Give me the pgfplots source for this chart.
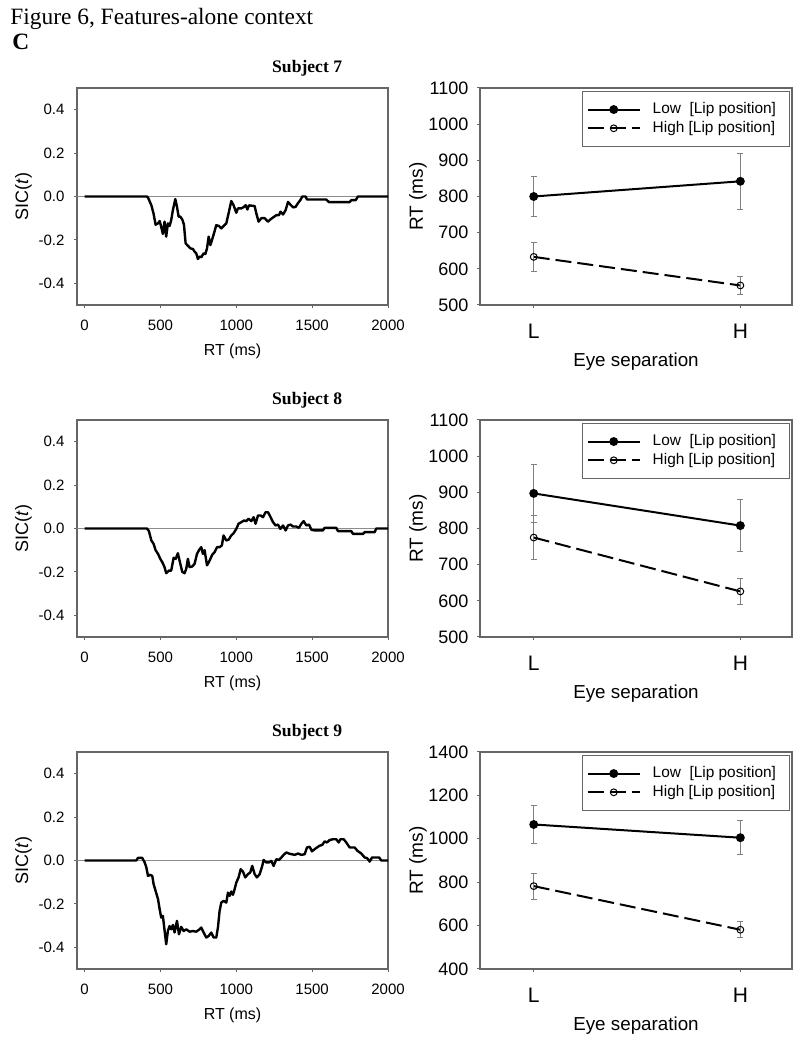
\documentclass[border=0pt]{standalone}
\usepackage{fontspec}
\setmainfont{Liberation Sans}
\newfontfamily\tnr{Liberation Serif}
\usepackage{pgfplots}
\pgfplotsset{compat=1.18}

% 1 px of the reference = 0.5pt
\pgfplotsset{
  every axis title shift=0pt,
  panel/.style={
    scale only axis, height=108.5pt, anchor=south west,
    axis line style={black!60, line width=0.6pt},
    tick style={black!60, line width=0.5pt},
    tick align=outside, major tick length=1.6pt,
    xtick pos=bottom, ytick pos=left,
    clip=false,
  },
  subj/.style={title={#1},
    title style={font=\tnr\bfseries\fontsize{8.8}{10}\selectfont,
      at={(axis description cs:0.74,1)}, anchor=base, yshift=7.5pt}},
  sic/.style={panel, width=155.5pt,
    xmin=-50, xmax=2000, ymin=-0.5, ymax=0.5,
    tick label style={font=\fontsize{7.5}{8}\selectfont},
    xtick={0,500,1000,1500,2000}, xticklabels={0,500,1000,1500,2000},
    ytick={-0.4,-0.2,0,0.2,0.4}, yticklabels={-0.4,-0.2,0.0,0.2,0.4},
    xticklabel style={anchor=center, yshift=-8.5pt},
    yticklabel style={anchor=east, inner sep=0pt, xshift=-4.5pt},
    xlabel={RT (ms)}, ylabel={SIC(\textit{t})},
    xlabel style={font=\fontsize{8}{9}\selectfont, at={(axis description cs:0.5,-0.214)}, anchor=center},
    ylabel style={font=\fontsize{9}{10}\selectfont, at={(axis description cs:-0.172,0.5)}, anchor=center},
  },
  rt/.style={panel, width=156pt,
    xmin=0.74, xmax=2.25, xtick={1,2}, xticklabels={L,H},
    tick label style={font=\fontsize{9}{10}\selectfont},
    xticklabel style={font=\fontsize{10.5}{12}\selectfont, anchor=center, yshift=-11.5pt},
    yticklabel style={anchor=east, inner sep=0pt, xshift=-4pt,
      /pgf/number format/assume math mode=true, /pgf/number format/1000 sep={}},
    xlabel={Eye separation}, ylabel={RT (ms)},
    xlabel style={font=\fontsize{9.4}{11}\selectfont, at={(axis description cs:0.5,-0.263)}, anchor=center},
    ylabel style={font=\fontsize{9.5}{11}\selectfont, at={(axis description cs:-0.199,0.5)}, anchor=center},
    legend style={at={(axis description cs:0.993,0.985)}, anchor=north east,
      draw=black!60, line width=0.5pt, font=\fontsize{7.7}{9}\selectfont,
      outer sep=0pt, nodes={inner sep=0.5pt}, row sep=1.3pt,
      inner xsep=1.9pt, inner ysep=5.1pt,
      /tikz/every odd column/.append style={column sep=5.5pt}},
    legend cell align=left,
    legend image code/.code={\draw[mark repeat=2, mark phase=2, ##1]
      plot coordinates {(0pt,0pt) (13pt,0pt) (26pt,0pt)};},
  },
  sicline/.style={black, line width=1.2pt, line join=round},
  zeroline/.style={black!45, line width=0.4pt, forget plot},
  lowrt/.style={black, line width=1pt, mark=*, mark size=1.7pt,
    mark options={solid, fill=black},
    error bars/.cd, y dir=both, y explicit,
    error bar style={black!50, line width=0.5pt, solid},
    error mark options={black!50, line width=0.5pt, mark size=1.5pt, rotate=90}},
  highrt/.style={black, line width=1pt, dash pattern=on 8pt off 3pt,
    mark=o, mark size=1.7pt, mark options={solid, fill=white, line width=0.5pt},
    error bars/.cd, y dir=both, y explicit,
    error bar style={black!50, line width=0.5pt, solid},
    error mark options={black!50, line width=0.5pt, mark size=1.5pt, rotate=90}},
}
\newcommand{\lowentry}{Low\ \ [Lip position]\rule{4.5pt}{0pt}}
\newcommand{\highentry}{High [Lip position]\rule{4.5pt}{0pt}}

\begin{document}
\begin{tikzpicture}
\useasboundingbox (0,0) rectangle (400pt,522pt);

\node[anchor=base west, inner sep=0pt, font=\tnr\fontsize{11.7}{14}\selectfont]
  at (5pt,509.5pt) {Figure 6, Features-alone context};
\node[anchor=base west, inner sep=0pt, font=\tnr\bfseries\fontsize{11.7}{14}\selectfont]
  at (6pt,497pt) {C};

% ---------------- Subject 7 ----------------
\begin{axis}[sic, subj={Subject 7}, at={(38.5pt,369.5pt)}]
\addplot[zeroline] coordinates {(-50,0) (2000,0)};
\addplot[sicline] coordinates {
(0,0) (411,0) (418,-0.005) (440,-0.04) (455,-0.08) (468,-0.13) (484,-0.124)
(495,-0.113) (505,-0.14) (516,-0.173) (527,-0.116) (538,-0.185) (549,-0.124)
(560,-0.136) (571,-0.109) (582,-0.063) (598,-0.012) (609,-0.047) (620,-0.093)
(631,-0.093) (644,-0.106) (655,-0.13) (666,-0.216) (681,-0.227) (697,-0.239)
(714,-0.242) (725,-0.254) (736,-0.262) (747,-0.288) (758,-0.277) (769,-0.28)
(785,-0.262) (796,-0.265) (807,-0.239) (818,-0.185) (829,-0.224) (840,-0.2)
(853,-0.17) (868,-0.132) (886,-0.136) (901,-0.147) (916,-0.136) (934,-0.124)
(949,-0.078) (967,-0.021) (982,-0.04) (1000,-0.075) (1011,-0.055) (1033,-0.055)
(1051,-0.048) (1062,-0.04) (1073,-0.06) (1084,-0.041) (1121,-0.044) (1132,-0.078)
(1147,-0.116) (1165,-0.1) (1187,-0.1) (1209,-0.116) (1224,-0.106) (1242,-0.097)
(1264,-0.086) (1281,-0.086) (1292,-0.07) (1308,-0.083) (1325,-0.063) (1341,-0.025)
(1356,-0.037) (1374,-0.05) (1391,-0.048) (1407,-0.03) (1422,-0.017) (1435,0)
(1457,0) (1466,-0.014) (1593,-0.014) (1611,-0.026) (1747,-0.026) (1758,-0.017)
(1787,-0.017) (1802,0) (2000,0)};
\end{axis}

\begin{axis}[rt, at={(240pt,369.5pt)}, ymin=500, ymax=1100,
  ytick={500,600,700,800,900,1000,1100}]
\addplot[lowrt] coordinates {(1,800) +- (0,56) (2,842) +- (0,77)};
\addlegendentry{\lowentry}
\addplot[highrt] coordinates {(1,633) +- (0,41) (2,554) +- (0,24)};
\addlegendentry{\highentry}
\end{axis}

% ---------------- Subject 8 ----------------
\begin{axis}[sic, subj={Subject 8}, at={(38.5pt,203.5pt)}]
\addplot[zeroline] coordinates {(-50,0) (2000,0)};
\addplot[sicline] coordinates {
(0,0) (411,0) (424,-0.012) (440,-0.055) (455,-0.071) (468,-0.1) (484,-0.117)
(499,-0.14) (512,-0.155) (527,-0.178) (538,-0.206) (556,-0.194) (571,-0.194)
(587,-0.135) (600,-0.14) (615,-0.114) (626,-0.148) (644,-0.2) (659,-0.206)
(670,-0.186) (681,-0.14) (692,-0.178) (710,-0.175) (725,-0.163) (741,-0.117)
(754,-0.1) (769,-0.086) (780,-0.117) (791,-0.1) (807,-0.17) (824,-0.148)
(842,-0.12) (857,-0.109) (873,-0.086) (890,-0.086) (905,-0.078) (916,-0.032)
(934,-0.055) (949,-0.052) (967,-0.032) (982,-0.022) (1000,-0.002) (1015,0.022)
(1033,0.029) (1051,0.037) (1066,0.034) (1081,0.045) (1099,0.034) (1114,0.052)
(1127,0.022) (1143,0.06) (1160,0.06) (1176,0.052) (1193,0.075) (1209,0.075)
(1224,0.055) (1242,0.029) (1259,0.014) (1275,0.018) (1290,-0.002) (1308,0.014)
(1325,-0.009) (1341,0.014) (1358,0.018) (1374,0.009) (1396,0.009) (1413,0.003)
(1429,0.022) (1444,0.034) (1462,0.014) (1479,0.018) (1495,-0.006) (1516,-0.009)
(1571,-0.009) (1582,0.003) (1659,0.003) (1670,-0.012) (1758,-0.012) (1769,-0.025)
(1835,-0.025) (1846,-0.017) (1912,-0.017) (1923,0) (2000,0)};
\end{axis}

\begin{axis}[rt, at={(240pt,203.5pt)}, ymin=500, ymax=1100,
  ytick={500,600,700,800,900,1000,1100}]
\addplot[lowrt] coordinates {(1,897) +- (0,80) (2,808) +- (0,71)};
\addlegendentry{\lowentry}
\addplot[highrt] coordinates {(1,775) +- (0,60) (2,626) +- (0,37)};
\addlegendentry{\highentry}
\end{axis}

% ---------------- Subject 9 ----------------
\begin{axis}[sic, subj={Subject 9}, at={(38.5pt,37.5pt)}]
\addplot[zeroline] coordinates {(-50,0) (2000,0)};
\addplot[sicline] coordinates {
(0,0) (341,0) (352,0.012) (380,0.012) (396,-0.009) (407,-0.032) (418,-0.071)
(433,-0.066) (446,-0.071) (455,-0.109) (468,-0.14) (484,-0.178) (495,-0.225)
(505,-0.263) (516,-0.255) (525,-0.309) (538,-0.386) (549,-0.325) (560,-0.302)
(571,-0.317) (582,-0.297) (593,-0.332) (609,-0.278) (622,-0.34) (637,-0.306)
(653,-0.325) (670,-0.317) (692,-0.328) (714,-0.325) (736,-0.328) (758,-0.317)
(769,-0.309) (785,-0.332) (802,-0.355) (818,-0.348) (835,-0.332) (851,-0.355)
(868,-0.355) (879,-0.309) (890,-0.232) (901,-0.194) (916,-0.186) (934,-0.194)
(945,-0.148) (956,-0.163) (967,-0.143) (978,-0.158) (989,-0.132) (1000,-0.102)
(1015,-0.078) (1029,-0.04) (1044,-0.051) (1059,-0.078) (1077,-0.063) (1092,-0.055)
(1105,-0.025) (1121,-0.063) (1136,-0.078) (1154,-0.063) (1171,-0.025) (1180,0.002)
(1198,-0.009) (1215,-0.009) (1231,-0.002) (1246,-0.025) (1264,0.006) (1281,0.002)
(1297,0.014) (1312,0.026) (1330,0.037) (1347,0.032) (1363,0.029) (1385,0.026)
(1407,0.032) (1429,0.026) (1451,0.029) (1466,0.06) (1484,0.063) (1499,0.042)
(1516,0.052) (1532,0.06) (1549,0.068) (1567,0.072) (1582,0.088) (1598,0.083)
(1615,0.094) (1637,0.098) (1659,0.098) (1675,0.083) (1686,0.098) (1708,0.098)
(1725,0.083) (1747,0.06) (1780,0.06) (1798,0.045) (1824,0.032) (1846,0.014)
(1862,0.011) (1879,-0.005) (1895,0.014) (1941,0.014) (1956,0) (2000,0)};
\end{axis}

\begin{axis}[rt, at={(240pt,37.5pt)}, ymin=400, ymax=1400,
  ytick={400,600,800,1000,1200,1400}]
\addplot[lowrt] coordinates {(1,1066) +- (0,87) (2,1005) +- (0,79)};
\addlegendentry{\lowentry}
\addplot[highrt] coordinates {(1,782) +- (0,60) (2,581) +- (0,38)};
\addlegendentry{\highentry}
\end{axis}
\end{tikzpicture}
\end{document}
